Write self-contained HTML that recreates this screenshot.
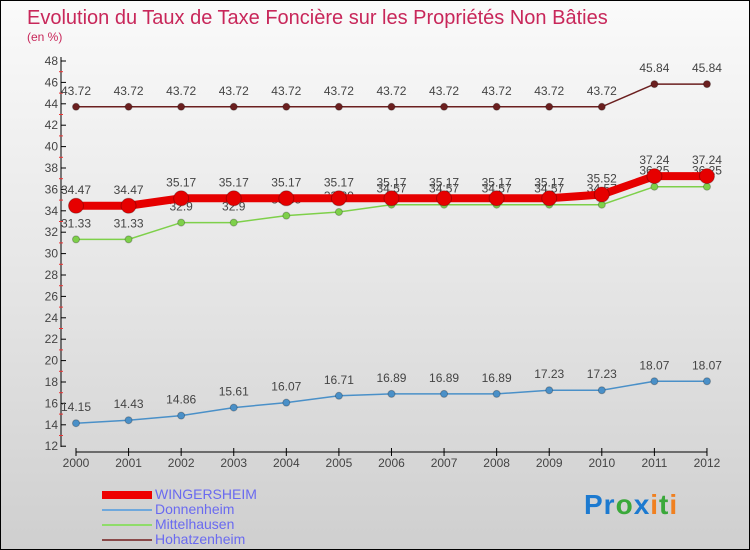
<!DOCTYPE html>
<html><head><meta charset="utf-8"><style>
body{margin:0}
#c{width:750px;height:550px;position:relative;box-sizing:border-box;border:1px solid #000;background:linear-gradient(#fafafa,#e6e6e6 50%,#cfcfcf);font-family:"Liberation Sans",sans-serif;overflow:hidden}
svg{position:absolute;left:0;top:0}
</style></head><body>
<div id="c">
<svg id="s" width="750" height="550">
<text x="26" y="23" font-size="20" fill="#c8275a">Evolution du Taux de Taxe Foncière sur les Propriétés Non Bâties</text>
<text x="26" y="40" font-size="12" fill="#c8275a">(en %)</text>
</svg>
<div style="position:absolute;left:101px;top:486px;font-size:14px;line-height:15px;color:#6a6af0">
<div><span style="display:inline-block;width:50px;height:8px;background:#e00;margin-right:3px;vertical-align:middle"></span>WINGERSHEIM</div>
<div><span style="display:inline-block;width:50px;height:2px;background:#6fa8dc;margin-right:3px;vertical-align:middle"></span>Donnenheim</div>
<div><span style="display:inline-block;width:50px;height:2px;background:#8fdc6a;margin-right:3px;vertical-align:middle"></span>Mittelhausen</div>
<div><span style="display:inline-block;width:50px;height:2px;background:#8a4a4a;margin-right:3px;vertical-align:middle"></span>Hohatzenheim</div>
</div>
<div style="position:absolute;left:583px;top:488px;font-size:28px;font-weight:bold;letter-spacing:1px"><span style="color:#1c7ad0">Pr</span><span style="color:#3aa83a">o</span><span style="color:#1c7ad0">x</span><span style="color:#f08020">i</span><span style="color:#3aa83a">t</span><span style="color:#f08020">i</span></div>
</div>
<script>
const years=["2000","2001","2002","2003","2004","2005","2006","2007","2008","2009","2010","2011","2012"];
const wing=[34.47,34.47,35.17,35.17,35.17,35.17,35.17,35.17,35.17,35.17,35.52,37.24,37.24];
const donn=[14.15,14.43,14.86,15.61,16.07,16.71,16.89,16.89,16.89,17.23,17.23,18.07,18.07];
const mitt=[31.33,31.33,32.9,32.9,33.55,33.89,34.57,34.57,34.57,34.57,34.57,36.25,36.25];
const hoha=[43.72,43.72,43.72,43.72,43.72,43.72,43.72,43.72,43.72,43.72,43.72,45.84,45.84];
const yTicks=[12,14,16,18,20,22,24,26,28,30,32,34,36,38,40,42,44,46,48];
const s=document.getElementById('s');const NS='http://www.w3.org/2000/svg';
const X=i=>75+i*52.58, Y=v=>60+(48-v)*10.7;
function el(t,a,p){const e=document.createElementNS(NS,t);for(const k in a)e.setAttribute(k,a[k]);(p||s).appendChild(e);return e;}
let ax=el('line',{x1:60,y1:56,x2:60,y2:446,stroke:'#000'});


let bx=el('line',{x1:75,y1:451,x2:706,y2:451,stroke:'#000'});


yTicks.forEach(v=>{el('line',{x1:60,y1:Y(v),x2:65,y2:Y(v),stroke:'#000'});
 if(v<48)el('line',{x1:58,y1:Y(v+1),x2:62,y2:Y(v+1),stroke:'#e33'});
 const t=el('text',{x:57,y:Y(v)+4,'font-size':12,'text-anchor':'end',fill:'#444'});t.textContent=v;
 
 });
years.forEach((y,i)=>{el('line',{x1:X(i),y1:447,x2:X(i),y2:455,stroke:'#000'});
 const t=el('text',{x:X(i),y:466,'font-size':12,'text-anchor':'middle',fill:'#444'});t.textContent=y;
 
 });
function series(d,col,w,r,name){
 const p=el('polyline',{points:d.map((v,i)=>X(i)+','+Y(v)).join(' '),fill:'none',stroke:col,'stroke-width':w});
 
 
 d.forEach((v,i)=>{const c=el('circle',{cx:X(i),cy:Y(v),r:r,fill:col,stroke:'rgba(0,0,0,0.25)'});
  
  
  const t=el('text',{x:X(i),y:Y(v)-12,'font-size':12,'text-anchor':'middle',fill:'#444'});t.textContent=v;
  
  });
}
series(hoha,'#6b1f1f',1.5,3.5,'hohatzenheim');
series(donn,'#4a90c8',1.5,3.5,'donnenheim');
series(mitt,'#7ed04a',1.5,3.5,'mittelhausen');
series(wing,'#e60000',8,7.5,'wingersheim');
</script>
</body></html>
